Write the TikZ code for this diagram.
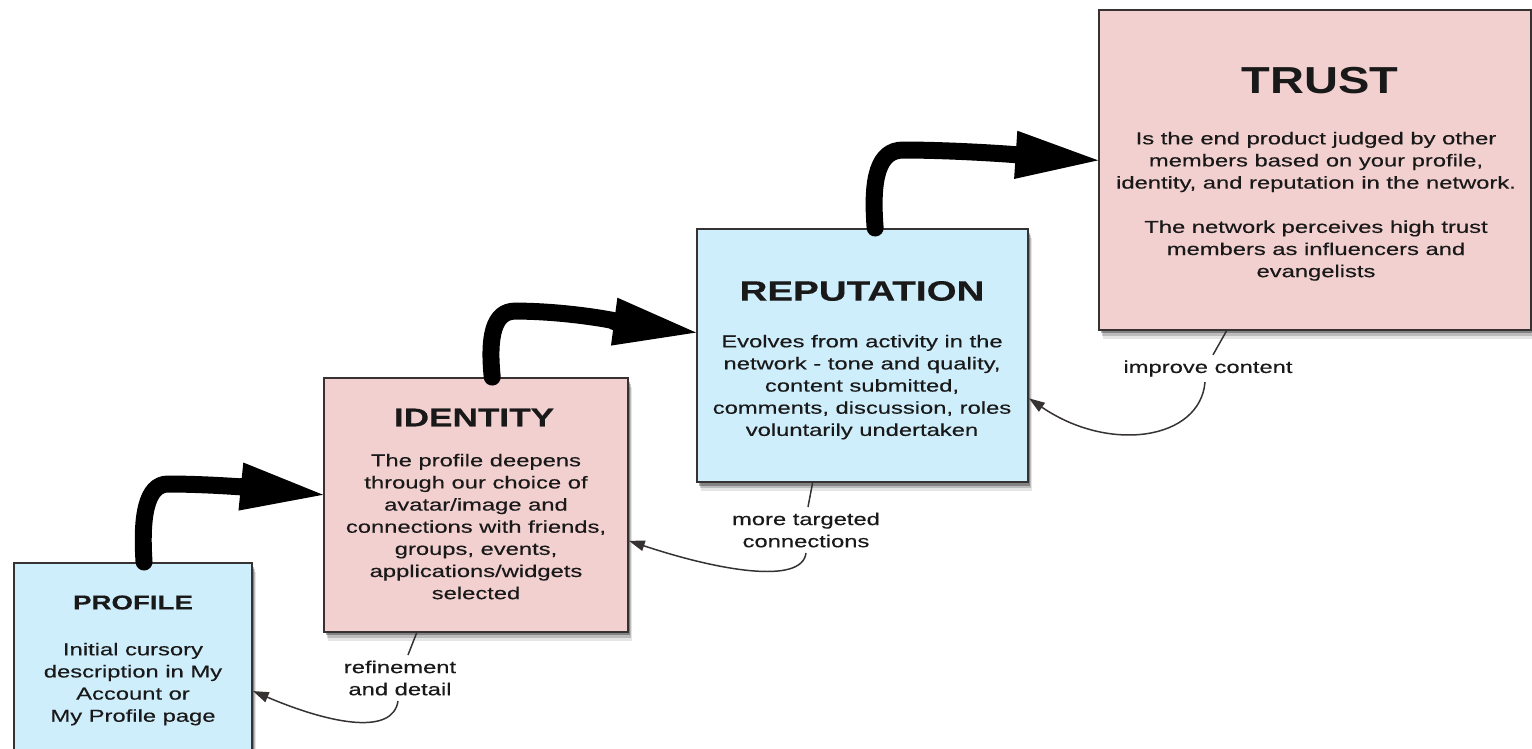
\documentclass[tikz,border=0pt]{standalone}
\usepackage{fontspec}
\setmainfont{Liberation Sans}
\newfontfamily\wf{Liberation Sans}[FakeStretch=1.38,FakeBold=0.35]
\newfontfamily\tf{Liberation Sans}[FakeStretch=1.25]
\usetikzlibrary{arrows.meta,calc,shadows}
\definecolor{boxblue}{RGB}{207,238,251}
\definecolor{boxpink}{RGB}{243,208,208}
\definecolor{edge}{RGB}{55,50,50}
\definecolor{ink}{RGB}{25,25,25}
\begin{document}
\begin{tikzpicture}[x=0.02cm,y=-0.02cm,
 box/.style={draw=edge,line width=1.1pt,inner sep=0pt,
   drop shadow={shadow xshift=1pt,shadow yshift=-2pt,opacity=.3,fill=black},
   drop shadow={shadow xshift=1.6pt,shadow yshift=-3.6pt,opacity=.18,fill=black},
   drop shadow={shadow xshift=2.2pt,shadow yshift=-5.2pt,opacity=.1,fill=black}},
 ttl/.style={inner sep=0pt,text=ink},
 body/.style={inner sep=0pt,align=center,text=ink,anchor=north,font=\wf\fontsize{9.8}{12.6}\selectfont},
 lbl/.style={inner sep=3pt,align=center,text=ink,font=\wf\fontsize{9.8}{12.6}\selectfont},
 bigarrow/.style={draw=black,line width=9.67pt,line cap=round,-{Triangle[length=47pt,width=27.5pt,line width=0pt]}},
 thinline/.style={draw=edge,line width=0.85pt},
 thinarrow/.style={draw=edge,line width=0.85pt,-{Triangle[length=9pt,width=6pt]}}
]
\useasboundingbox (0,0) rectangle (1532,749);
\clip (0,0) rectangle (1532,749);

% boxes
\node[box,fill=boxblue,minimum width=135.4pt,minimum height=134.9pt] (prof) at (133,681.5) {};
\node[box,fill=boxpink,minimum width=173pt,minimum height=144.5pt] (iden) at (476,505) {};
\node[box,fill=boxblue,minimum width=188.4pt,minimum height=144pt] (repu) at (862.5,355.5) {};
\node[box,fill=boxpink,minimum width=245.8pt,minimum height=182.1pt] (trus) at (1315,170) {};

% titles
\node[ttl,font=\wf\bfseries\fontsize{11.4}{13}\selectfont] (tprof) at (133,602.5) {PROFILE};
\node[ttl,font=\wf\bfseries\fontsize{14.5}{16}\selectfont] (tiden) at (474,417.5) {IDENTITY};
\node[ttl,font=\wf\bfseries\fontsize{15.9}{18}\selectfont] (trepu) at (862,291) {REPUTATION};
\node[ttl,font=\tf\bfseries\fontsize{21.4}{24}\selectfont] (ttrus) at (1320,81) {TRUST};

% bodies
\node[body] (bprof) at (133,642.5) {Initial cursory\\description in My\\Account or\\My Profile page};
\node[body] (biden) at (476,453.5) {The profile deepens\\through our choice of\\avatar/image and\\connections with friends,\\groups, events,\\applications/widgets\\selected};
\node[body] (brepu) at (862,334.5) {Evolves from activity in the\\network - tone and quality,\\content submitted,\\comments, discussion, roles\\voluntarily undertaken};
\node[body] (btrus) at (1316,131.5) {Is the end product judged by other\\members based on your profile,\\identity, and reputation in the network.\\[12.6pt]The network perceives high trust\\members as influencers and\\evangelists};

% feedback connectors
\node[lbl] (l1) at (400,678) {refinement\\and detail};
\draw[thinline] ($(iden.south west)!0.306!(iden.south east)$) -- ($(l1.north)+(8,0)$);
\draw[thinarrow] ($(l1.south)+(-2,0)$) .. controls +(-5,34) and +(80,34) .. ($(prof.north east)!0.54!(prof.south east)$);

\node[lbl] (l2) at (806,530) {more targeted\\connections};
\draw[thinline] ($(repu.south west)!0.35!(repu.south east)$) -- ($(l2.north)+(2,0)$);
\draw[thinarrow] (l2.south) .. controls +(-4,32) and +(90,30) .. ($(iden.north east)!0.64!(iden.south east)$);

\node[lbl] (l3) at (1208,368.5) {improve content};
\draw[thinline] ($(trus.south west)!0.296!(trus.south east)$) -- ($(l3.north)+(5,0)$);
\draw[thinarrow] ($(l3.south)+(-3,0)$) .. controls +(-5,58) and +(80,55) .. ($(repu.north east)!0.668!(repu.south east)$);

% big arrows
\draw[bigarrow] ($(prof.north west)!0.546!(prof.north east)$) .. controls +(-3,-45) and +(-22,0) .. ++(24,-78) .. controls +(50,0) and +(-50,-5) .. ($(iden.north west)!0.46!(iden.south west)$);
\draw[bigarrow] ($(iden.north west)!0.553!(iden.north east)$) .. controls +(-4,-40) and +(-22,0) .. ++(23,-66) .. controls +(60,0) and +(-60,-8) .. ($(repu.north west)!0.41!(repu.south west)$);
\draw[bigarrow] ($(repu.north west)!0.538!(repu.north east)$) .. controls +(-4,-50) and +(-25,0) .. ++(28,-78) .. controls +(60,0) and +(-60,-4) .. ($(trus.north west)!0.47!(trus.south west)$);
\end{tikzpicture}
\end{document}
